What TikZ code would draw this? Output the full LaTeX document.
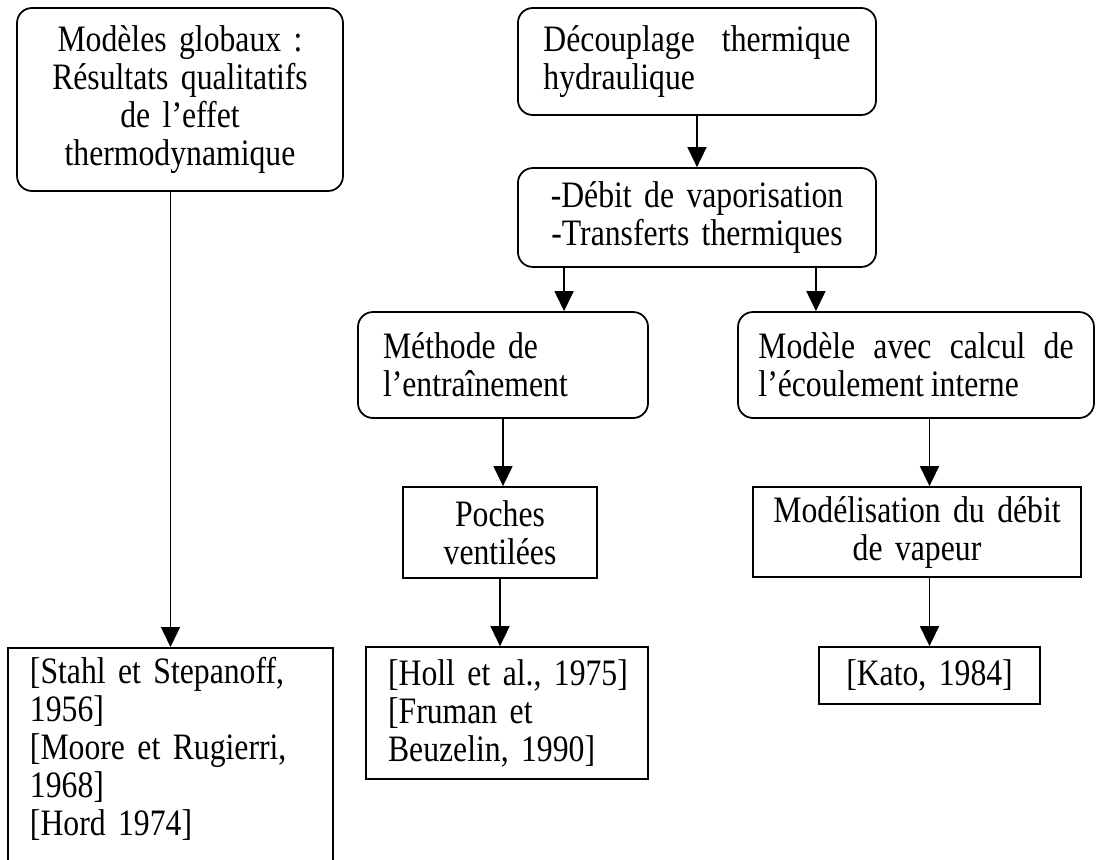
\documentclass[tikz,border=0pt]{standalone}
\usepackage{fontspec}
\setmainfont{Liberation Serif}[FakeStretch=0.85,WordSpace=0.87]
\usetikzlibrary{arrows.meta,calc}
\hyphenpenalty=10000
\exhyphenpenalty=10000

\begin{document}
\begin{tikzpicture}[x=0.37pt,y=-0.37pt,
  font=\fontsize{13.8pt}{14.06pt}\selectfont,
  every node/.style={line width=0.65pt, inner ysep=2pt},
  rbox/.style={draw, rounded corners=5.5pt},
  sbox/.style={draw},
  arr/.style={line width=0.65pt, -{Triangle[length=7.4pt,width=7pt]}}]
  \useasboundingbox (0,0) rectangle (1096,859);
  % rounded boxes
  \node[rbox, minimum width=120.6pt, minimum height=67.7pt, text width=104.3pt, align=center] (glob) at (180,99.5)
    {Modèles globaux :\\Résultats qualitatifs\\de l’effet\\thermodynamique};
  \node[rbox, minimum width=132.5pt, minimum height=39.6pt, text width=113.6pt, align=justify] (decoup) at (697,61.5)
    {Découplage thermique\linebreak hydraulique};
  \node[rbox, minimum width=132.5pt, minimum height=36.6pt, text width=113.6pt, align=center] (debit) at (697,217.5)
    {-Débit de vaporisation\\-Transferts thermiques};
  \node[rbox, minimum width=107.3pt, minimum height=39.2pt, text width=88.8pt, align=left] (entr) at (503,365)
    {Méthode de\\l’entraînement};
  \node[rbox, minimum width=131.7pt, minimum height=39.2pt, text width=116.6pt, align=justify] (ecoul) at (916,365)
    {Modèle avec calcul de\linebreak l’écoulement interne};
  % square boxes
  \node[sbox, minimum width=71.8pt, minimum height=33.7pt, text width=60pt, align=center] (poches) at (500,532.5)
    {Poches\\ventilées};
  \node[sbox, minimum width=121.4pt, minimum height=33.3pt, text width=110pt, align=center] (vapeur) at (917,532)
    {Modélisation du débit\\de vapeur};
  \node[sbox, anchor=north, minimum width=120.3pt, text width=104pt, inner ysep=3.3pt, text depth=70pt, align=left] (refglob) at (170.5,647)
    {[Stahl~et~Stepanoff,\\{}1956]\\{}[Moore~et~Rugierri,\\{}1968]\\{}[Hord~1974]};
  \node[sbox, minimum width=104.3pt, minimum height=48.8pt, text width=88pt, align=left] (refentr) at (507,713)
    {[Holl~et~al.,~1975]\\{}[Fruman~et\\{}Beuzelin,~1990]};
  \node[sbox, minimum width=81.8pt, minimum height=21.1pt, text width=70pt, align=center] (refkato) at (929.5,675.5)
    {[Kato, 1984]};
  % arrows
  \coordinate (d1) at ($(debit.south west)+(47,0)$);
  \coordinate (d2) at ($(debit.south east)+(-61,0)$);
  \draw[arr] (glob.south -| refglob.north) -- (refglob.north);
  \draw[arr] (decoup.south) -- (debit.north);
  \draw[arr] (d1) -- (d1 |- entr.north);
  \draw[arr] (d2) -- (d2 |- ecoul.north);
  \draw[arr] (entr.south) -- (entr.south |- poches.north);
  \draw[arr] (ecoul.south -| refkato.north) -- (vapeur.north -| refkato.north);
  \draw[arr] (poches.south) -- (poches.south |- refentr.north);
  \draw[arr] (vapeur.south -| refkato.north) -- (refkato.north);
\end{tikzpicture}
\end{document}
